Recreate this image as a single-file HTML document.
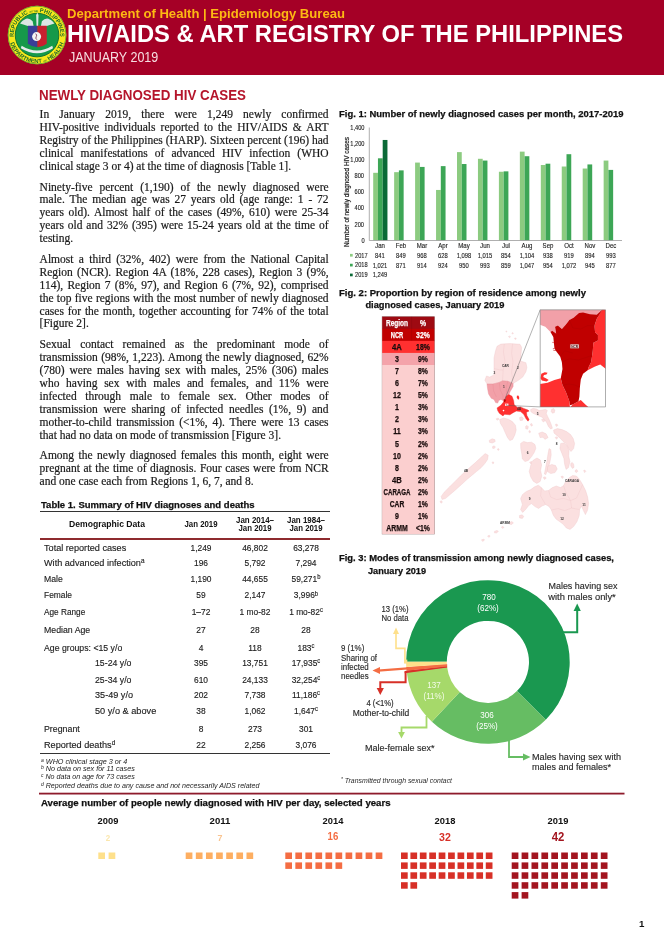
<!DOCTYPE html>
<html lang="en"><head><meta charset="utf-8"><title>HIV/AIDS &amp; ART Registry of the Philippines - January 2019</title>
<style>
html,body{margin:0;padding:0;background:#fff}
#pg{position:relative;width:664px;height:940px;overflow:hidden;background:#fff}
.t{position:absolute;white-space:nowrap;line-height:0;margin:0;padding:0}
.t sup{font-size:70%;line-height:0;vertical-align:baseline;position:relative;top:-0.42em}
svg{position:absolute;left:0;top:0;overflow:visible}
svg text{font-family:'Liberation Sans',sans-serif}
</style></head>
<body><div id="pg">
<header style="position:absolute;left:0;top:0;width:664px;height:74.6px;background:#A50026"></header>
<svg width="664" height="940" viewBox="0 0 664 940" style="pointer-events:none">
<g transform="translate(37.05,35.05)">
<circle r="29.3" fill="#F7E81B"/>
<circle r="28.9" fill="none" stroke="#3C9A3A" stroke-width="0.7"/>
<circle r="21.8" fill="#16994A" stroke="#0E6B2C" stroke-width="0.9"/>
<defs><path id="lgT" d="M-23.1,3.2 A23.3,23.3 0 1 1 23.1,3.2"/><path id="lgB" d="M-26.6,8.2 A27.8,27.8 0 0 0 26.6,8.2"/></defs>
<text font-size="5.9" font-weight="bold" fill="#1C6A2A" text-anchor="middle"><textPath href="#lgT" startOffset="50%" textLength="76" lengthAdjust="spacingAndGlyphs">REPUBLIC <tspan font-size="2.4">OF THE</tspan> PHILIPPINES</textPath></text>
<text font-size="5.7" font-weight="bold" fill="#1C6A2A" text-anchor="middle"><textPath href="#lgB" startOffset="50%" textLength="71" lengthAdjust="spacingAndGlyphs">DEPARTMENT <tspan font-size="2.4">OF</tspan> HEALTH</textPath></text>
<path d="M-17,-11.5 q2,-3.2 6,-4.8 q3.6,-0.8 6.6,2.4 l1,5.4 h-4.4 q-4.4,-1.6 -9.2,-3 z M17.4,-11.5 q-2,-3.2 -6,-4.8 q-3.6,-0.8 -6.6,2.4 l-1,5.4 h4.4 q4.400,-1.6 9.2,-3 z" fill="#DCE6E4"/>
<path d="M-0.9,-20 l1.2,-2.4 l1.2,2.4 l-0.4,11 h-1.6 z" fill="#DCE6E4"/>
<path d="M-9.2,-9.2 h9.5 v21.4 q-5.6,-0.4 -9.5,-3.6 z" fill="#3A3F98"/>
<path d="M0.3,-9.2 h9.4 v17.800 q-3.800,3.200 -9.400,3.600 z" fill="#C8202F"/>
<circle cx="-0.45" cy="1.55" r="4.5" fill="#F4F4F2"/>
<path d="M-1.4,-1.4 q1.800,1.400 0.600,3.000 q-1.200,1.600 0.600,3.000" fill="none" stroke="#7a3355" stroke-width="0.9"/>
<path d="M-15.4,10.6 q15.400,9.600 30.600,0 l0.8,2.600 q-16,10 -32.200,0 z" fill="#E6ECEA"/>
</g></svg>

<div class="t" style="top:13.60px;font:normal bold 13px/0 'Liberation Sans', sans-serif;color:#FDB913;left:67.30px;transform:scaleX(1.0074);transform-origin:left center;">Department of Health | Epidemiology Bureau</div>
<div class="t" style="top:34.26px;font:normal bold 23.2px/0 'Liberation Sans', sans-serif;color:#fff;left:67.00px;transform:scaleX(1.0243);transform-origin:left center;">HIV/AIDS &amp; ART REGISTRY OF THE PHILIPPINES</div>
<div class="t" style="top:56.85px;font:normal normal 14px/0 'Liberation Sans', sans-serif;color:#F6DDE1;left:68.50px;transform:scaleX(0.8941);transform-origin:left center;">JANUARY 2019</div>
<section>
<div class="t" style="top:94.68px;font:normal bold 14.2px/0 'Liberation Sans', sans-serif;color:#B5152B;left:39.20px;transform:scaleX(0.9411);transform-origin:left center;">NEWLY DIAGNOSED HIV CASES</div>
<div class="t" style="top:114.22px;font:normal normal 11.5px/0 'Liberation Serif', serif;color:#1a1a1a;left:39.60px;word-spacing:7.299px;-webkit-text-stroke:0.2px #1a1a1a;">In January 2019, there were 1,249 newly confirmed</div>
<div class="t" style="top:127.19px;font:normal normal 11.5px/0 'Liberation Serif', serif;color:#1a1a1a;left:39.60px;word-spacing:2.248px;-webkit-text-stroke:0.2px #1a1a1a;">HIV-positive individuals reported to the HIV/AIDS &amp; ART</div>
<div class="t" style="top:140.16px;font:normal normal 11.5px/0 'Liberation Serif', serif;color:#1a1a1a;left:39.60px;word-spacing:0.072px;-webkit-text-stroke:0.2px #1a1a1a;">Registry of the Philippines (HARP). Sixteen percent (196) had</div>
<div class="t" style="top:153.13px;font:normal normal 11.5px/0 'Liberation Serif', serif;color:#1a1a1a;left:39.60px;word-spacing:4.240px;-webkit-text-stroke:0.2px #1a1a1a;">clinical manifestations of advanced HIV infection (WHO</div>
<div class="t" style="top:166.10px;font:normal normal 11.5px/0 'Liberation Serif', serif;color:#1a1a1a;left:39.60px;-webkit-text-stroke:0.2px #1a1a1a;">clinical stage 3 or 4) at the time of diagnosis [Table 1].</div>
<div class="t" style="top:186.52px;font:normal normal 11.5px/0 'Liberation Serif', serif;color:#1a1a1a;left:39.60px;word-spacing:3.969px;-webkit-text-stroke:0.2px #1a1a1a;">Ninety-five percent (1,190) of the newly diagnosed were</div>
<div class="t" style="top:199.49px;font:normal normal 11.5px/0 'Liberation Serif', serif;color:#1a1a1a;left:39.60px;word-spacing:1.987px;-webkit-text-stroke:0.2px #1a1a1a;">male. The median age was 27 years old (age range: 1 - 72</div>
<div class="t" style="top:212.46px;font:normal normal 11.5px/0 'Liberation Serif', serif;color:#1a1a1a;left:39.60px;word-spacing:1.755px;-webkit-text-stroke:0.2px #1a1a1a;">years old). Almost half of the cases (49%, 610) were 25-34</div>
<div class="t" style="top:225.43px;font:normal normal 11.5px/0 'Liberation Serif', serif;color:#1a1a1a;left:39.60px;word-spacing:1.036px;-webkit-text-stroke:0.2px #1a1a1a;">years old and 32% (395) were 15-24 years old at the time of</div>
<div class="t" style="top:238.40px;font:normal normal 11.5px/0 'Liberation Serif', serif;color:#1a1a1a;left:39.60px;-webkit-text-stroke:0.2px #1a1a1a;">testing.</div>
<div class="t" style="top:258.62px;font:normal normal 11.5px/0 'Liberation Serif', serif;color:#1a1a1a;left:39.60px;word-spacing:2.444px;-webkit-text-stroke:0.2px #1a1a1a;">Almost a third (32%, 402) were from the National Capital</div>
<div class="t" style="top:271.59px;font:normal normal 11.5px/0 'Liberation Serif', serif;color:#1a1a1a;left:39.60px;word-spacing:1.342px;-webkit-text-stroke:0.2px #1a1a1a;">Region (NCR). Region 4A (18%, 228 cases), Region 3 (9%,</div>
<div class="t" style="top:284.56px;font:normal normal 11.5px/0 'Liberation Serif', serif;color:#1a1a1a;left:39.60px;word-spacing:1.380px;-webkit-text-stroke:0.2px #1a1a1a;">114), Region 7 (8%, 97), and Region 6 (7%, 92), comprised</div>
<div class="t" style="top:297.53px;font:normal normal 11.5px/0 'Liberation Serif', serif;color:#1a1a1a;left:39.60px;word-spacing:0.347px;-webkit-text-stroke:0.2px #1a1a1a;">the top five regions with the most number of newly diagnosed</div>
<div class="t" style="top:310.50px;font:normal normal 11.5px/0 'Liberation Serif', serif;color:#1a1a1a;left:39.60px;word-spacing:0.956px;-webkit-text-stroke:0.2px #1a1a1a;">cases for the month, together accounting for 74% of the total</div>
<div class="t" style="top:323.47px;font:normal normal 11.5px/0 'Liberation Serif', serif;color:#1a1a1a;left:39.60px;-webkit-text-stroke:0.2px #1a1a1a;">[Figure 2].</div>
<div class="t" style="top:344.02px;font:normal normal 11.5px/0 'Liberation Serif', serif;color:#1a1a1a;left:39.60px;word-spacing:6.386px;-webkit-text-stroke:0.2px #1a1a1a;">Sexual contact remained as the predominant mode of</div>
<div class="t" style="top:356.99px;font:normal normal 11.5px/0 'Liberation Serif', serif;color:#1a1a1a;left:39.60px;word-spacing:0.538px;-webkit-text-stroke:0.2px #1a1a1a;">transmission (98%, 1,223). Among the newly diagnosed, 62%</div>
<div class="t" style="top:369.96px;font:normal normal 11.5px/0 'Liberation Serif', serif;color:#1a1a1a;left:39.60px;word-spacing:2.161px;-webkit-text-stroke:0.2px #1a1a1a;">(780) were males having sex with males, 25% (306) males</div>
<div class="t" style="top:382.93px;font:normal normal 11.5px/0 'Liberation Serif', serif;color:#1a1a1a;left:39.60px;word-spacing:3.842px;-webkit-text-stroke:0.2px #1a1a1a;">who having sex with males and females, and 11% were</div>
<div class="t" style="top:395.90px;font:normal normal 11.5px/0 'Liberation Serif', serif;color:#1a1a1a;left:39.60px;word-spacing:5.826px;-webkit-text-stroke:0.2px #1a1a1a;">infected through male to female sex. Other modes of</div>
<div class="t" style="top:408.87px;font:normal normal 11.5px/0 'Liberation Serif', serif;color:#1a1a1a;left:39.60px;word-spacing:2.793px;-webkit-text-stroke:0.2px #1a1a1a;">transmission were sharing of infected needles (1%, 9) and</div>
<div class="t" style="top:421.84px;font:normal normal 11.5px/0 'Liberation Serif', serif;color:#1a1a1a;left:39.60px;word-spacing:1.871px;-webkit-text-stroke:0.2px #1a1a1a;">mother-to-child transmission (&lt;1%, 4). There were 13 cases</div>
<div class="t" style="top:434.81px;font:normal normal 11.5px/0 'Liberation Serif', serif;color:#1a1a1a;left:39.60px;-webkit-text-stroke:0.2px #1a1a1a;">that had no data on mode of transmission [Figure 3].</div>
<div class="t" style="top:455.02px;font:normal normal 11.5px/0 'Liberation Serif', serif;color:#1a1a1a;left:39.60px;word-spacing:1.592px;-webkit-text-stroke:0.2px #1a1a1a;">Among the newly diagnosed females this month, eight were</div>
<div class="t" style="top:467.99px;font:normal normal 11.5px/0 'Liberation Serif', serif;color:#1a1a1a;left:39.60px;word-spacing:0.698px;-webkit-text-stroke:0.2px #1a1a1a;">pregnant at the time of diagnosis. Four cases were from NCR</div>
<div class="t" style="top:480.96px;font:normal normal 11.5px/0 'Liberation Serif', serif;color:#1a1a1a;left:39.60px;-webkit-text-stroke:0.2px #1a1a1a;">and one case each from Regions 1, 6, 7, and 8.</div>
</section>
<section>
<div class="t" style="top:504.67px;font:normal bold 9.6px/0 'Liberation Sans', sans-serif;color:#111;left:40.50px;transform:scaleX(0.9921);transform-origin:left center;-webkit-text-stroke:0.25px #111;">Table 1. Summary of HIV diagnoses and deaths</div>
<div style="position:absolute;left:40px;top:510.6px;width:290px;height:1px;background:#333"></div>
<div class="t" style="top:524.38px;font:normal bold 9px/0 'Liberation Sans', sans-serif;color:#111;left:107.00px;transform:translateX(-50%) scaleX(0.9556);">Demographic Data</div>
<div class="t" style="top:524.38px;font:normal bold 9px/0 'Liberation Sans', sans-serif;color:#111;left:201.00px;transform:translateX(-50%) scaleX(0.8677);">Jan 2019</div>
<div class="t" style="top:519.88px;font:normal bold 9px/0 'Liberation Sans', sans-serif;color:#111;left:255.00px;transform:translateX(-50%) scaleX(0.8828);">Jan 2014–</div>
<div class="t" style="top:527.88px;font:normal bold 9px/0 'Liberation Sans', sans-serif;color:#111;left:255.00px;transform:translateX(-50%) scaleX(0.8677);">Jan 2019</div>
<div class="t" style="top:519.88px;font:normal bold 9px/0 'Liberation Sans', sans-serif;color:#111;left:306.00px;transform:translateX(-50%) scaleX(0.8828);">Jan 1984–</div>
<div class="t" style="top:527.88px;font:normal bold 9px/0 'Liberation Sans', sans-serif;color:#111;left:306.00px;transform:translateX(-50%) scaleX(0.8677);">Jan 2019</div>
<div style="position:absolute;left:40px;top:538.4px;width:290px;height:2px;background:#8E2A2E"></div>
<div class="t" style="top:547.77px;font:normal normal 9.9px/0 'Liberation Sans', sans-serif;color:#1c1c1c;left:43.75px;transform:scaleX(0.9250);transform-origin:left center;-webkit-text-stroke:0.15px #1c1c1c;">Total reported cases</div>
<div class="t" style="top:547.77px;font:normal normal 9.9px/0 'Liberation Sans', sans-serif;color:#1c1c1c;left:201.00px;transform:translateX(-50%) scaleX(0.8500);-webkit-text-stroke:0.15px #1c1c1c;">1,249</div>
<div class="t" style="top:547.77px;font:normal normal 9.9px/0 'Liberation Sans', sans-serif;color:#1c1c1c;left:255.00px;transform:translateX(-50%) scaleX(0.8500);-webkit-text-stroke:0.15px #1c1c1c;">46,802</div>
<div class="t" style="top:547.77px;font:normal normal 9.9px/0 'Liberation Sans', sans-serif;color:#1c1c1c;left:306.00px;transform:translateX(-50%) scaleX(0.8500);-webkit-text-stroke:0.15px #1c1c1c;">63,278</div>
<div class="t" style="top:563.37px;font:normal normal 9.9px/0 'Liberation Sans', sans-serif;color:#1c1c1c;left:43.75px;transform:scaleX(0.9244);transform-origin:left center;-webkit-text-stroke:0.15px #1c1c1c;">With advanced infection<sup>a</sup></div>
<div class="t" style="top:563.37px;font:normal normal 9.9px/0 'Liberation Sans', sans-serif;color:#1c1c1c;left:201.00px;transform:translateX(-50%) scaleX(0.8500);-webkit-text-stroke:0.15px #1c1c1c;">196</div>
<div class="t" style="top:563.37px;font:normal normal 9.9px/0 'Liberation Sans', sans-serif;color:#1c1c1c;left:255.00px;transform:translateX(-50%) scaleX(0.8500);-webkit-text-stroke:0.15px #1c1c1c;">5,792</div>
<div class="t" style="top:563.37px;font:normal normal 9.9px/0 'Liberation Sans', sans-serif;color:#1c1c1c;left:306.00px;transform:translateX(-50%) scaleX(0.8500);-webkit-text-stroke:0.15px #1c1c1c;">7,294</div>
<div class="t" style="top:578.77px;font:normal normal 9.9px/0 'Liberation Sans', sans-serif;color:#1c1c1c;left:43.75px;transform:scaleX(0.8759);transform-origin:left center;-webkit-text-stroke:0.15px #1c1c1c;">Male</div>
<div class="t" style="top:578.77px;font:normal normal 9.9px/0 'Liberation Sans', sans-serif;color:#1c1c1c;left:201.00px;transform:translateX(-50%) scaleX(0.8500);-webkit-text-stroke:0.15px #1c1c1c;">1,190</div>
<div class="t" style="top:578.77px;font:normal normal 9.9px/0 'Liberation Sans', sans-serif;color:#1c1c1c;left:255.00px;transform:translateX(-50%) scaleX(0.8500);-webkit-text-stroke:0.15px #1c1c1c;">44,655</div>
<div class="t" style="top:578.77px;font:normal normal 9.9px/0 'Liberation Sans', sans-serif;color:#1c1c1c;left:306.00px;transform:translateX(-50%) scaleX(0.8500);-webkit-text-stroke:0.15px #1c1c1c;">59,271<sup>b</sup></div>
<div class="t" style="top:595.47px;font:normal normal 9.9px/0 'Liberation Sans', sans-serif;color:#1c1c1c;left:43.75px;transform:scaleX(0.8501);transform-origin:left center;-webkit-text-stroke:0.15px #1c1c1c;">Female</div>
<div class="t" style="top:595.47px;font:normal normal 9.9px/0 'Liberation Sans', sans-serif;color:#1c1c1c;left:201.00px;transform:translateX(-50%) scaleX(0.8500);-webkit-text-stroke:0.15px #1c1c1c;">59</div>
<div class="t" style="top:595.47px;font:normal normal 9.9px/0 'Liberation Sans', sans-serif;color:#1c1c1c;left:255.00px;transform:translateX(-50%) scaleX(0.8500);-webkit-text-stroke:0.15px #1c1c1c;">2,147</div>
<div class="t" style="top:595.47px;font:normal normal 9.9px/0 'Liberation Sans', sans-serif;color:#1c1c1c;left:306.00px;transform:translateX(-50%) scaleX(0.8500);-webkit-text-stroke:0.15px #1c1c1c;">3,996<sup>b</sup></div>
<div class="t" style="top:611.87px;font:normal normal 9.9px/0 'Liberation Sans', sans-serif;color:#1c1c1c;left:43.75px;transform:scaleX(0.8347);transform-origin:left center;-webkit-text-stroke:0.15px #1c1c1c;">Age Range</div>
<div class="t" style="top:611.87px;font:normal normal 9.9px/0 'Liberation Sans', sans-serif;color:#1c1c1c;left:201.00px;transform:translateX(-50%) scaleX(0.8500);-webkit-text-stroke:0.15px #1c1c1c;">1–72</div>
<div class="t" style="top:611.87px;font:normal normal 9.9px/0 'Liberation Sans', sans-serif;color:#1c1c1c;left:255.00px;transform:translateX(-50%) scaleX(0.8500);-webkit-text-stroke:0.15px #1c1c1c;">1 mo-82</div>
<div class="t" style="top:611.87px;font:normal normal 9.9px/0 'Liberation Sans', sans-serif;color:#1c1c1c;left:306.00px;transform:translateX(-50%) scaleX(0.8500);-webkit-text-stroke:0.15px #1c1c1c;">1 mo-82<sup>c</sup></div>
<div class="t" style="top:629.97px;font:normal normal 9.9px/0 'Liberation Sans', sans-serif;color:#1c1c1c;left:43.75px;transform:scaleX(0.8865);transform-origin:left center;-webkit-text-stroke:0.15px #1c1c1c;">Median Age</div>
<div class="t" style="top:629.97px;font:normal normal 9.9px/0 'Liberation Sans', sans-serif;color:#1c1c1c;left:201.00px;transform:translateX(-50%) scaleX(0.8500);-webkit-text-stroke:0.15px #1c1c1c;">27</div>
<div class="t" style="top:629.97px;font:normal normal 9.9px/0 'Liberation Sans', sans-serif;color:#1c1c1c;left:255.00px;transform:translateX(-50%) scaleX(0.8500);-webkit-text-stroke:0.15px #1c1c1c;">28</div>
<div class="t" style="top:629.97px;font:normal normal 9.9px/0 'Liberation Sans', sans-serif;color:#1c1c1c;left:306.00px;transform:translateX(-50%) scaleX(0.8500);-webkit-text-stroke:0.15px #1c1c1c;">28</div>
<div class="t" style="top:647.57px;font:normal normal 9.9px/0 'Liberation Sans', sans-serif;color:#1c1c1c;left:43.75px;transform:scaleX(0.8825);transform-origin:left center;-webkit-text-stroke:0.15px #1c1c1c;">Age groups: &lt;15 y/o</div>
<div class="t" style="top:647.57px;font:normal normal 9.9px/0 'Liberation Sans', sans-serif;color:#1c1c1c;left:201.00px;transform:translateX(-50%) scaleX(0.8500);-webkit-text-stroke:0.15px #1c1c1c;">4</div>
<div class="t" style="top:647.57px;font:normal normal 9.9px/0 'Liberation Sans', sans-serif;color:#1c1c1c;left:255.00px;transform:translateX(-50%) scaleX(0.8500);-webkit-text-stroke:0.15px #1c1c1c;">118</div>
<div class="t" style="top:647.57px;font:normal normal 9.9px/0 'Liberation Sans', sans-serif;color:#1c1c1c;left:306.00px;transform:translateX(-50%) scaleX(0.8500);-webkit-text-stroke:0.15px #1c1c1c;">183<sup>c</sup></div>
<div class="t" style="top:663.37px;font:normal normal 9.9px/0 'Liberation Sans', sans-serif;color:#1c1c1c;left:94.70px;transform:scaleX(0.8862);transform-origin:left center;-webkit-text-stroke:0.15px #1c1c1c;">15-24 y/o</div>
<div class="t" style="top:663.37px;font:normal normal 9.9px/0 'Liberation Sans', sans-serif;color:#1c1c1c;left:201.00px;transform:translateX(-50%) scaleX(0.8500);-webkit-text-stroke:0.15px #1c1c1c;">395</div>
<div class="t" style="top:663.37px;font:normal normal 9.9px/0 'Liberation Sans', sans-serif;color:#1c1c1c;left:255.00px;transform:translateX(-50%) scaleX(0.8500);-webkit-text-stroke:0.15px #1c1c1c;">13,751</div>
<div class="t" style="top:663.37px;font:normal normal 9.9px/0 'Liberation Sans', sans-serif;color:#1c1c1c;left:306.00px;transform:translateX(-50%) scaleX(0.8500);-webkit-text-stroke:0.15px #1c1c1c;">17,935<sup>c</sup></div>
<div class="t" style="top:679.57px;font:normal normal 9.9px/0 'Liberation Sans', sans-serif;color:#1c1c1c;left:94.70px;transform:scaleX(0.8862);transform-origin:left center;-webkit-text-stroke:0.15px #1c1c1c;">25-34 y/o</div>
<div class="t" style="top:679.57px;font:normal normal 9.9px/0 'Liberation Sans', sans-serif;color:#1c1c1c;left:201.00px;transform:translateX(-50%) scaleX(0.8500);-webkit-text-stroke:0.15px #1c1c1c;">610</div>
<div class="t" style="top:679.57px;font:normal normal 9.9px/0 'Liberation Sans', sans-serif;color:#1c1c1c;left:255.00px;transform:translateX(-50%) scaleX(0.8500);-webkit-text-stroke:0.15px #1c1c1c;">24,133</div>
<div class="t" style="top:679.57px;font:normal normal 9.9px/0 'Liberation Sans', sans-serif;color:#1c1c1c;left:306.00px;transform:translateX(-50%) scaleX(0.8500);-webkit-text-stroke:0.15px #1c1c1c;">32,254<sup>c</sup></div>
<div class="t" style="top:695.37px;font:normal normal 9.9px/0 'Liberation Sans', sans-serif;color:#1c1c1c;left:94.50px;transform:scaleX(0.9226);transform-origin:left center;-webkit-text-stroke:0.15px #1c1c1c;">35-49 y/o</div>
<div class="t" style="top:695.37px;font:normal normal 9.9px/0 'Liberation Sans', sans-serif;color:#1c1c1c;left:201.00px;transform:translateX(-50%) scaleX(0.8500);-webkit-text-stroke:0.15px #1c1c1c;">202</div>
<div class="t" style="top:695.37px;font:normal normal 9.9px/0 'Liberation Sans', sans-serif;color:#1c1c1c;left:255.00px;transform:translateX(-50%) scaleX(0.8500);-webkit-text-stroke:0.15px #1c1c1c;">7,738</div>
<div class="t" style="top:695.37px;font:normal normal 9.9px/0 'Liberation Sans', sans-serif;color:#1c1c1c;left:306.00px;transform:translateX(-50%) scaleX(0.8500);-webkit-text-stroke:0.15px #1c1c1c;">11,186<sup>c</sup></div>
<div class="t" style="top:711.27px;font:normal normal 9.9px/0 'Liberation Sans', sans-serif;color:#1c1c1c;left:94.50px;transform:scaleX(0.9296);transform-origin:left center;-webkit-text-stroke:0.15px #1c1c1c;">50 y/o &amp; above</div>
<div class="t" style="top:711.27px;font:normal normal 9.9px/0 'Liberation Sans', sans-serif;color:#1c1c1c;left:201.00px;transform:translateX(-50%) scaleX(0.8500);-webkit-text-stroke:0.15px #1c1c1c;">38</div>
<div class="t" style="top:711.27px;font:normal normal 9.9px/0 'Liberation Sans', sans-serif;color:#1c1c1c;left:255.00px;transform:translateX(-50%) scaleX(0.8500);-webkit-text-stroke:0.15px #1c1c1c;">1,062</div>
<div class="t" style="top:711.27px;font:normal normal 9.9px/0 'Liberation Sans', sans-serif;color:#1c1c1c;left:306.00px;transform:translateX(-50%) scaleX(0.8500);-webkit-text-stroke:0.15px #1c1c1c;">1,647<sup>c</sup></div>
<div class="t" style="top:728.77px;font:normal normal 9.9px/0 'Liberation Sans', sans-serif;color:#1c1c1c;left:43.75px;transform:scaleX(0.8917);transform-origin:left center;-webkit-text-stroke:0.15px #1c1c1c;">Pregnant</div>
<div class="t" style="top:728.77px;font:normal normal 9.9px/0 'Liberation Sans', sans-serif;color:#1c1c1c;left:201.00px;transform:translateX(-50%) scaleX(0.8500);-webkit-text-stroke:0.15px #1c1c1c;">8</div>
<div class="t" style="top:728.77px;font:normal normal 9.9px/0 'Liberation Sans', sans-serif;color:#1c1c1c;left:255.00px;transform:translateX(-50%) scaleX(0.8500);-webkit-text-stroke:0.15px #1c1c1c;">273</div>
<div class="t" style="top:728.77px;font:normal normal 9.9px/0 'Liberation Sans', sans-serif;color:#1c1c1c;left:306.00px;transform:translateX(-50%) scaleX(0.8500);-webkit-text-stroke:0.15px #1c1c1c;">301</div>
<div class="t" style="top:744.87px;font:normal normal 9.9px/0 'Liberation Sans', sans-serif;color:#1c1c1c;left:43.75px;transform:scaleX(0.9266);transform-origin:left center;-webkit-text-stroke:0.15px #1c1c1c;">Reported deaths<sup>d</sup></div>
<div class="t" style="top:744.87px;font:normal normal 9.9px/0 'Liberation Sans', sans-serif;color:#1c1c1c;left:201.00px;transform:translateX(-50%) scaleX(0.8500);-webkit-text-stroke:0.15px #1c1c1c;">22</div>
<div class="t" style="top:744.87px;font:normal normal 9.9px/0 'Liberation Sans', sans-serif;color:#1c1c1c;left:255.00px;transform:translateX(-50%) scaleX(0.8500);-webkit-text-stroke:0.15px #1c1c1c;">2,256</div>
<div class="t" style="top:744.87px;font:normal normal 9.9px/0 'Liberation Sans', sans-serif;color:#1c1c1c;left:306.00px;transform:translateX(-50%) scaleX(0.8500);-webkit-text-stroke:0.15px #1c1c1c;">3,076</div>
<div style="position:absolute;left:40px;top:753.1px;width:290px;height:1.2px;background:#333"></div>
<div class="t" style="top:761.65px;font:italic normal 6.5px/0 'Liberation Sans', sans-serif;color:#222;left:41.25px;transform:scaleX(1.1104);transform-origin:left center;"><sup>a</sup> WHO clinical stage 3 or 4</div>
<div class="t" style="top:769.25px;font:italic normal 6.5px/0 'Liberation Sans', sans-serif;color:#222;left:41.25px;transform:scaleX(1.1056);transform-origin:left center;"><sup>b</sup> No data on sex for 11 cases</div>
<div class="t" style="top:777.25px;font:italic normal 6.5px/0 'Liberation Sans', sans-serif;color:#222;left:41.25px;transform:scaleX(1.0931);transform-origin:left center;"><sup>c</sup> No data on age for 73 cases</div>
<div class="t" style="top:785.65px;font:italic normal 6.5px/0 'Liberation Sans', sans-serif;color:#222;left:41.25px;transform:scaleX(1.0928);transform-origin:left center;"><sup>d</sup> Reported deaths due to any cause and not necessarily AIDS related</div>
</section>
<svg width="664" height="940" viewBox="0 0 664 940">
<rect x="373.20" y="172.80" width="4.75" height="67.70" fill="#8CCB80"/>
<rect x="377.95" y="158.31" width="4.75" height="82.19" fill="#3DA656"/>
<rect x="382.70" y="139.96" width="4.75" height="100.54" fill="#0B6A37"/>
<rect x="394.15" y="172.16" width="4.75" height="68.34" fill="#8CCB80"/>
<rect x="398.90" y="170.38" width="4.75" height="70.12" fill="#3DA656"/>
<rect x="415.10" y="162.58" width="4.75" height="77.92" fill="#8CCB80"/>
<rect x="419.85" y="166.92" width="4.75" height="73.58" fill="#3DA656"/>
<rect x="436.05" y="189.95" width="4.75" height="50.55" fill="#8CCB80"/>
<rect x="440.80" y="166.12" width="4.75" height="74.38" fill="#3DA656"/>
<rect x="457.00" y="152.11" width="4.75" height="88.39" fill="#8CCB80"/>
<rect x="461.75" y="164.02" width="4.75" height="76.48" fill="#3DA656"/>
<rect x="477.95" y="158.79" width="4.75" height="81.71" fill="#8CCB80"/>
<rect x="482.70" y="160.56" width="4.75" height="79.94" fill="#3DA656"/>
<rect x="498.90" y="171.75" width="4.75" height="68.75" fill="#8CCB80"/>
<rect x="503.65" y="171.35" width="4.75" height="69.15" fill="#3DA656"/>
<rect x="519.85" y="151.63" width="4.75" height="88.87" fill="#8CCB80"/>
<rect x="524.60" y="156.22" width="4.75" height="84.28" fill="#3DA656"/>
<rect x="540.80" y="164.99" width="4.75" height="75.51" fill="#8CCB80"/>
<rect x="545.55" y="163.70" width="4.75" height="76.80" fill="#3DA656"/>
<rect x="561.75" y="166.52" width="4.75" height="73.98" fill="#8CCB80"/>
<rect x="566.50" y="154.20" width="4.75" height="86.30" fill="#3DA656"/>
<rect x="582.70" y="168.53" width="4.75" height="71.97" fill="#8CCB80"/>
<rect x="587.45" y="164.43" width="4.75" height="76.07" fill="#3DA656"/>
<rect x="603.65" y="160.56" width="4.75" height="79.94" fill="#8CCB80"/>
<rect x="608.40" y="169.90" width="4.75" height="70.60" fill="#3DA656"/>
<path d="M369.3,127.5 V240.5 H622" fill="none" stroke="#9a9a9a" stroke-width="0.8"/>
<rect x="350" y="253.90" width="2.7" height="2.7" fill="#8CCB80"/>
<rect x="350" y="263.75" width="2.7" height="2.7" fill="#3DA656"/>
<rect x="350" y="273.60" width="2.7" height="2.7" fill="#0B6A37"/>
<rect x="382.2" y="316.7" width="52.20" height="217.26" fill="none" stroke="#6b4a4a" stroke-opacity="0.75" stroke-width="0.7"/>
<rect x="382.2" y="316.70" width="52.20" height="12.37" fill="#9E0A12"/>
<rect x="382.2" y="328.77" width="52.20" height="12.37" fill="#C00000"/>
<rect x="382.2" y="340.84" width="52.20" height="12.37" fill="#FF3030"/>
<rect x="382.2" y="352.91" width="52.20" height="12.37" fill="#F4A3AA"/>
<rect x="382.2" y="364.98" width="52.20" height="168.98" fill="#FBCFCF"/>
<path d="M411.6,316.7 V340.84" stroke="#5a0000" stroke-opacity="0.25" stroke-width="0.5"/>
<g id="phmap" stroke-linejoin="round">
<g fill="#FBE0E0" stroke="#EFC8C9" stroke-width="0.4">
<!-- North Luzon: Regions 1, CAR, 2 -->
<path d="M497.1,346.2 L500.9,344.1 L509.9,343.6 L520,344.3 L521.6,347.3 L521.1,353.7 L520.6,361.1 L525.9,362.7 L526.9,367.5 L525.9,371.7 L522.7,377.1 L518.4,380.3 L513.1,383.4 L507.8,381.3 L502.5,380.8 L499.3,382.4 L492.9,384 L487,384 L484.9,380.3 L486.5,376 L489.7,377.1 L494,374.9 L494,368.6 L494,357.9 L495.6,350.5 Z"/>
<path d="M504.3,344 L503.4,352 L505,361 L503.2,370 L502.5,380.8 M512.6,343.8 L511.6,353 L513,362 L511.6,372 L513.1,383.4 M494,368.6 L499.5,369.8 L503.2,370" fill="none"/>
<!-- Batanes/Babuyan dots -->
<path d="M508.5,336.5 l1.2,-0.6 l0.8,1 l-1,0.9 z M511.8,333 l1,-0.4 l0.6,0.9 l-0.9,0.6 z M514.5,338.2 l1.3,-0.3 l0.5,1 l-1.2,0.5 z M505.8,331.2 l0.8,-0.3 l0.4,0.8 l-0.8,0.4 z"/>
<!-- Bicol (5) -->
<path d="M530.6,409.6 L533,408.4 L536.5,409 L539.2,410.6 L542.5,410 L545.5,409.4 L547.4,410.6 L546.2,413.2 L547.6,416.4 L549.4,420 L551.2,424.4 L552.4,428.2 L550.6,429 L548.4,426.4 L546.4,422 L544,419.4 L541.8,417 L539,416 L535.7,414.6 L532.6,413 L530.8,411.6 Z"/>
<path d="M551.6,409.4 l2,-0.8 l1.2,1.6 l-0.4,2.4 l-2,0.6 l-1.2,-1.8 z"/>
<!-- Masbate -->
<path transform="translate(-6.5,8)" d="M545.2,425.2 L548.8,424 L552.6,425.8 L554.6,429.6 L551.4,431.4 L549.6,429.2 L546.6,429.6 Z"/>
<path d="M541.6,419.6 l2,-0.6 l1.4,1.8 l-1.8,1.2 z M555.4,424.4 l1.6,-0.4 l0.8,1.6 l-1.6,0.8 z"/>
<!-- Marinduque, Romblon -->
<path d="M519.6,417.6 l2.2,-0.8 l1.6,1.6 l-1,2 l-2.4,0 z M525.6,426.4 l1.4,-1 l1.4,1.4 l-0.8,2.4 l-1.8,-0.4 z M530.4,424 l1.4,-0.4 l0.8,1.8 l-1.4,0.8 z M528.8,431 l1.2,-0.4 l0.6,1.6 l-1.2,0.6 z"/>
<!-- Mindoro -->
<path d="M499.6,419.6 L503.6,418 L508.2,419.2 L512.4,421.6 L515.4,425.2 L516.2,430 L514.8,435 L512.6,439.4 L509.8,440.6 L507.4,437.4 L505.2,432.6 L503,427.6 L500.4,423.4 Z"/>
<path d="M496.2,418.8 l2,-0.8 l0.8,1.2 l-2,1 z"/>
<!-- Calamian / Busuanga -->
<path d="M489.2,440.4 l3,-1.6 l2.6,0.8 l0.4,2 l-2.8,1.4 l-2.8,-0.6 z M492.6,446.6 l1.6,-0.8 l1.2,1.2 l-1.2,1.6 l-1.6,-0.4 z M497.4,449 l1.2,-0.4 l0.6,1.2 l-1.2,0.6 z"/>
<!-- Palawan -->
<path d="M485.2,453.6 L488.2,455.2 L487.6,459.4 L484.8,463.6 L481,467.8 L476.4,471.6 L471.8,475.4 L466.6,479.8 L461.2,484.8 L455.4,490 L449.8,494.8 L445.4,498.6 L442,499.4 L441.2,496.4 L444.2,492.2 L449.4,487 L455,481.4 L460.4,476 L465.8,471 L470.8,466.6 L475.4,462.6 L479.8,458.4 Z"/>
<path d="M440,501.4 l1.6,-0.6 l0.8,1.4 l-1.4,1 z M492,462.4 l1.2,-0.6 l0.8,1.2 l-1.2,0.8 z"/>
<!-- Panay (6) -->
<path d="M520.6,443.4 L523.6,441.4 L527.4,442.6 L531.6,442.2 L535,444.6 L535.8,448.4 L534.2,452.6 L531.6,456.6 L528.4,460.4 L525,461.6 L522.4,459 L521.8,454 L520.8,448.6 Z"/>
<path d="M529.6,462.2 l2,-0.8 l1.2,1.4 l-1.6,1.4 z"/>
<!-- Negros -->
<path d="M533.4,460 L537,458 L540.4,460 L541.6,465 L540.6,470.6 L541.8,476 L540.2,481.4 L536.8,483.4 L533.2,481.2 L530.6,476.6 L529.2,471.4 L530.6,466 L531.6,462.4 Z"/>
<!-- Cebu (7) -->
<path transform="translate(2.6,0)" d="M546.4,448.6 L548.2,449.6 L548.6,455 L547.4,461.6 L545.6,468.4 L543.2,474.6 L541.8,474 L543,467.6 L544.4,460.6 L545.4,454 Z"/>
<!-- Bohol -->
<path d="M547.6,466.6 L551.6,464.4 L555.6,465.6 L557.2,469 L555,472.6 L550.8,473.6 L547.4,471.6 Z"/>
<path d="M543.2,477.4 l2,-0.6 l1,1.4 l-1.8,1.2 z"/>
<!-- Samar (8) -->
<path d="M553.6,430 L557.4,428.6 L562,429.6 L566.6,431.6 L570.6,434.6 L573.2,438.6 L574.6,443.6 L573.6,448.6 L571,451.6 L568.6,448.4 L566.4,444 L563.2,441.6 L560.4,438.4 L556.8,435.4 L554,433 Z"/>
<!-- Leyte -->
<path transform="translate(4.5,3)" d="M556.2,440.4 L559.6,440 L562.6,443 L564.6,447.6 L564.2,453 L565.4,458.6 L564,464.6 L561.6,466.4 L560.2,461.6 L559.4,455.4 L557.4,450.4 L555.4,445.4 Z"/>
<path d="M555.2,437.4 l1.6,-0.6 l1,1.2 l-1.4,1.2 z M570.8,463.4 l1.4,-1 l1.4,1.6 l0.4,3.4 l-1.6,1 l-1.6,-2.4 z M575.4,470.2 l1.4,-0.6 l1,1.6 l-1.2,1.4 l-1.4,-0.8 z"/>
<!-- Mindanao -->
<path d="M520.6,498.6 L522.6,494.4 L526.4,491.4 L530.8,489.6 L534.6,486.8 L538.4,485.2 L541.4,487.6 L544.6,491 L548.6,490.4 L552.4,487.6 L556.4,486 L560.4,487.6 L563.6,485.6 L565.6,481.6 L568.8,478 L572.6,475.6 L576.4,476 L579.6,479.6 L582.6,484.6 L585.6,490.6 L587.6,497 L588.6,503.6 L587.6,510 L585.4,514.6 L583.4,510.6 L581.6,506 L579.6,509.6 L579.2,515.6 L577,521.6 L573.6,526.6 L570,529.4 L566.4,528 L563,524 L559.6,521.6 L556,519 L553.2,515 L551.4,510 L549,506.4 L545.6,504.6 L542,506 L538.6,508.4 L535,506.6 L531.4,503.6 L528.6,505.6 L525.6,509.6 L522.6,512.4 L520.6,509.6 L522.4,504.6 Z"/>
<path d="M548.6,490.4 L550.6,497 L556.6,499.6 L563.6,498.4 L570.6,500.6 L576.6,498 L582.6,484.6 M563.6,485.6 L565.6,492 L570.6,500.6 L571.6,508 L579.6,509.6 M551.4,510 L558,508.6 L564.6,510.6 L571.6,508 M541.4,487.6 L540.6,496 L545.6,504.6" fill="none"/>
<!-- Basilan, Sulu, Tawi-tawi -->
<path d="M519.4,515.6 l2.6,-0.8 l1.8,1.6 l-1.4,2 l-2.8,-0.4 z M509.4,522.6 l2.4,-1 l1.6,1.2 l-1.6,1.6 l-2.2,-0.2 z M501.4,527 l1.6,-0.6 l1,1 l-1.4,1 z M494.4,531.4 l2.6,-1 l1.4,1 l-2,1.6 l-2,-0.2 z M487.6,536 l1.6,-0.8 l1,1 l-1.4,1.2 z M481.4,540 l2.2,-1 l1,1 l-1.8,1.4 z"/>
<path d="M583.6,470.6 l1.2,-0.6 l1,1.4 l-1.2,1.2 z M561,476.6 l1.6,-0.6 l1,1.2 l-1.4,1.2 z"/>
</g>
<!-- Region 3 -->
<path d="M487,384 L492.9,384 L499.3,382.4 L502.5,380.8 L507.8,381.3 L513.1,383.4 L513.1,386.6 L509.9,392 L508.3,396.2 L505.7,399.4 L503,400.5 L500.9,399.4 L498.7,400.5 L497.7,403.1 L495.6,402.6 L494,399.4 L491.3,398.3 L488.6,394.1 L487.6,388.8 Z" fill="#F2A0A8" stroke="#E88A94" stroke-width="0.4"/>
<path d="M492.9,384 L493.6,391 L496.4,397 M499.3,382.4 L500.2,390 L503,395.6 L503,400.5 M507.8,381.3 L506.2,388 L506.6,395" fill="none" stroke="#E88A94" stroke-width="0.4"/>
<!-- Region 4A -->
<path d="M497.1,407.9 L500.9,405.3 L503.5,402.1 L505.1,399.4 L506.2,396.2 L508.9,394.6 L512,396.2 L513.6,400.5 L514.2,404.7 L517.4,407.4 L520.6,406.9 L523.7,408.4 L528,410 L529.1,411.1 L526.4,412.2 L526.9,415.4 L529.1,419.6 L528,421.2 L525.9,418.6 L523.7,414.3 L520.6,411.6 L516.3,411.1 L513.1,412.7 L509.9,414.8 L504.6,414.3 L503,415.9 L499.3,413.2 L497.7,410.6 Z" fill="#FF3030" stroke="#E82424" stroke-width="0.4"/>
<path d="M516.9,395.8 l1.4,-0.4 l0.9,1.5 l-0.1,2.4 l-1.1,0.3 l-1.2,-1.9 z" fill="#FF3030"/>
<path d="M505.2,403.6 h3.2 v2.4 h-3.2 z" fill="#fff"/>
<path d="M506.6,403.6 v1.6 M505.9,405 h1.6" stroke="#FF3030" stroke-width="0.5"/>
<circle cx="503.5" cy="410.6" r="0.8" fill="#fff"/>
<path d="M503.6,399.4 l1.6,-0.4 l0.7,1.7 l-1,1.6 l-1.3,-0.7 z" fill="#C00000"/>
<!-- callout lines -->
<path d="M504.6,400 L540.2,309.8 M506.4,405.4 L540.2,406.9" fill="none" stroke="#555" stroke-width="0.45"/>
<!-- inset -->
<g>
<clipPath id="insc"><rect x="540.2" y="309.8" width="65.3" height="97.1"/></clipPath>
<g clip-path="url(#insc)"><g transform="translate(535,305) scale(0.114455)">
<rect x="40" y="40" width="580" height="855" fill="#fff"/>
<path d="M40,40 H600 L590,100 L400,110 L340,110 L300,130 L270,170 L235,210 L200,180 L175,190 L185,250 L150,225 L135,235 L90,190 L40,172 Z" fill="#F2A0A8"/>
<path d="M620,40 V560 L570,520 L520,540 L460,570 L470,540 L490,500 L500,440 L505,400 L510,330 L550,310 L550,260 L525,240 L520,180 L540,120 L580,55 L590,40 Z" fill="#FF3030"/>
<path d="M40,690 L110,680 L170,655 L225,640 L240,700 L270,760 L300,840 L305,895 H40 Z" fill="#FF3030"/>
<path d="M380,840 L400,830 L440,870 L470,895 H305 L330,870 Z" fill="#FF3030"/>
<path d="M48,640 L55,600 L85,588 L110,592 L100,608 L78,612 L72,630 L95,640 L120,655 L100,668 L60,660 Z" fill="#FF3030"/>
<path d="M385,70 L420,65 L480,80 L540,85 L590,40 L580,55 L540,120 L520,180 L525,240 L550,260 L550,310 L510,330 L505,400 L500,440 L490,500 L470,540 L460,570 L420,600 L400,650 L392,720 L388,800 L380,840 L330,870 L305,875 L300,840 L270,760 L240,700 L225,640 L240,560 L235,500 L220,450 L190,410 L170,380 L165,330 L160,280 L135,235 L150,225 L185,250 L175,190 L200,180 L235,210 L270,170 L300,130 L340,110 Z" fill="#C00000"/>
<path d="M165,330 l-14,-4 M170,380 l-14,2 M190,398 l-30,-2" stroke="#C00000" stroke-width="5" fill="none"/>
<path d="M235,500 L300,470 L380,480 L440,460 L500,440 M240,700 L300,690 L350,700 L392,720 M220,450 L260,400 L330,420 M300,130 L330,200 L400,210 L460,180 L520,180" fill="none" stroke="#A80000" stroke-width="3"/>
</g></g>
<rect x="540.2" y="309.8" width="65.3" height="97.1" fill="none" stroke="#777" stroke-width="0.6"/>
<rect x="570.3" y="344.3" width="8.6" height="4" fill="#F7E9E9" stroke="#8a4a4a" stroke-width="0.3"/>
<text x="574.6" y="347.6" font-size="3.2" text-anchor="middle" fill="#400" font-weight="bold">NCR</text>
</g>
<g font-size="3.2" font-weight="bold" fill="#333" text-anchor="middle">
<text x="505.4" y="367.3">CAR</text><text x="517.9" y="368.8">2</text><text x="494.5" y="374.4">3</text><text x="504" y="388.4">1</text>
<text x="519" y="409.9">4A</text><text x="537.6" y="415.4">5</text><text x="466" y="472">4B</text><text x="527.6" y="454">6</text>
<text x="545" y="463">7</text><text x="556.6" y="445.4">8</text><text x="572" y="481.8">CARAGA</text><text x="564" y="496">10</text>
<text x="584" y="506.4">11</text><text x="562" y="520">12</text><text x="529.7" y="500">9</text><text x="505" y="524">ARMM</text>
</g>
</g>

<path d="M406.10,661.74 A81.8,81.8 0 1 1 545.74,719.84 L516.96,691.06 A41.1,41.1 0 1 0 446.80,661.87 Z" fill="#1A9850"/>
<path d="M545.74,719.84 A81.8,81.8 0 0 1 431.91,721.63 L459.77,691.96 A41.1,41.1 0 0 0 516.96,691.06 Z" fill="#66BD63"/>
<path d="M431.91,721.63 A81.8,81.8 0 0 1 406.77,672.41 L447.13,667.23 A41.1,41.1 0 0 0 459.77,691.96 Z" fill="#A6D96A"/>
<path d="M406.77,672.41 A81.8,81.8 0 0 1 406.57,670.78 L447.04,666.41 A41.1,41.1 0 0 0 447.13,667.23 Z" fill="#D73027"/>
<path d="M406.57,670.78 A81.8,81.8 0 0 1 406.26,667.09 L446.88,664.56 A41.1,41.1 0 0 0 447.04,666.41 Z" fill="#F46D43"/>
<path d="M406.26,667.09 A81.8,81.8 0 0 1 406.10,661.74 L446.80,661.87 A41.1,41.1 0 0 0 446.88,664.56 Z" fill="#FEE08B"/>
<path d="M563,632.3 H577.2 V610" fill="none" stroke="#1A9850" stroke-width="2"/><path d="M577.2,603.5 l3.6,7.5 h-7.2 z" fill="#1A9850"/>
<path d="M509,740 V757 H524" fill="none" stroke="#66BD63" stroke-width="1.8"/><path d="M530.5,757 l-7.5,-3.4 v6.8 z" fill="#66BD63"/>
<path d="M426.5,716 V727.5 H401.5 V733" fill="none" stroke="#A6D96A" stroke-width="1.8"/><path d="M401.5,738.5 l-3.4,-6.5 h6.8 z" fill="#A6D96A"/>
<rect x="404.1" y="659.6" width="3.2" height="4" fill="#FEE08B"/>
<path d="M404.9,663 V648.4 H396 V633" fill="none" stroke="#FEE08B" stroke-width="1.6"/><path d="M396,627.5 l-3,6.5 h6 z" fill="#FEE08B"/>
<path d="M447.2,664.2 L378,669.4 L378,671.8 L447.2,666.4 Z" fill="#F46D43"/><path d="M372.5,670.6 l7.5,-3.6 v7 z" fill="#F46D43"/>
<path d="M447.2,666.4 L404.6,671 L404.6,673.3 L447.2,667.6 Z" fill="#D73027"/>
<path d="M405.6,671.5 V682.2 H380.3 V689" fill="none" stroke="#D73027" stroke-width="2"/><path d="M380.3,695 l-3.6,-7 h7.2 z" fill="#D73027"/>
<rect x="39" y="792.7" width="585.5" height="1.8" fill="#8E1B2C"/>
<rect x="98.30" y="852.50" width="6.7" height="6.5" fill="#FEE08B"/>
<rect x="108.60" y="852.50" width="6.7" height="6.5" fill="#FEE08B"/>
<rect x="185.70" y="852.50" width="6.7" height="6.5" fill="#FDAE61"/>
<rect x="195.83" y="852.50" width="6.7" height="6.5" fill="#FDAE61"/>
<rect x="205.96" y="852.50" width="6.7" height="6.5" fill="#FDAE61"/>
<rect x="216.09" y="852.50" width="6.7" height="6.5" fill="#FDAE61"/>
<rect x="226.22" y="852.50" width="6.7" height="6.5" fill="#FDAE61"/>
<rect x="236.35" y="852.50" width="6.7" height="6.5" fill="#FDAE61"/>
<rect x="246.48" y="852.50" width="6.7" height="6.5" fill="#FDAE61"/>
<rect x="285.30" y="852.50" width="6.7" height="6.5" fill="#F46D43"/>
<rect x="295.34" y="852.50" width="6.7" height="6.5" fill="#F46D43"/>
<rect x="305.38" y="852.50" width="6.7" height="6.5" fill="#F46D43"/>
<rect x="315.42" y="852.50" width="6.7" height="6.5" fill="#F46D43"/>
<rect x="325.46" y="852.50" width="6.7" height="6.5" fill="#F46D43"/>
<rect x="335.50" y="852.50" width="6.7" height="6.5" fill="#F46D43"/>
<rect x="345.54" y="852.50" width="6.7" height="6.5" fill="#F46D43"/>
<rect x="355.58" y="852.50" width="6.7" height="6.5" fill="#F46D43"/>
<rect x="365.62" y="852.50" width="6.7" height="6.5" fill="#F46D43"/>
<rect x="375.66" y="852.50" width="6.7" height="6.5" fill="#F46D43"/>
<rect x="285.30" y="862.40" width="6.7" height="6.5" fill="#F46D43"/>
<rect x="295.34" y="862.40" width="6.7" height="6.5" fill="#F46D43"/>
<rect x="305.38" y="862.40" width="6.7" height="6.5" fill="#F46D43"/>
<rect x="315.42" y="862.40" width="6.7" height="6.5" fill="#F46D43"/>
<rect x="325.46" y="862.40" width="6.7" height="6.5" fill="#F46D43"/>
<rect x="335.50" y="862.40" width="6.7" height="6.5" fill="#F46D43"/>
<rect x="401.00" y="852.50" width="6.7" height="6.5" fill="#D73027"/>
<rect x="410.42" y="852.50" width="6.7" height="6.5" fill="#D73027"/>
<rect x="419.84" y="852.50" width="6.7" height="6.5" fill="#D73027"/>
<rect x="429.26" y="852.50" width="6.7" height="6.5" fill="#D73027"/>
<rect x="438.68" y="852.50" width="6.7" height="6.5" fill="#D73027"/>
<rect x="448.10" y="852.50" width="6.7" height="6.5" fill="#D73027"/>
<rect x="457.52" y="852.50" width="6.7" height="6.5" fill="#D73027"/>
<rect x="466.94" y="852.50" width="6.7" height="6.5" fill="#D73027"/>
<rect x="476.36" y="852.50" width="6.7" height="6.5" fill="#D73027"/>
<rect x="485.78" y="852.50" width="6.7" height="6.5" fill="#D73027"/>
<rect x="401.00" y="862.40" width="6.7" height="6.5" fill="#D73027"/>
<rect x="410.42" y="862.40" width="6.7" height="6.5" fill="#D73027"/>
<rect x="419.84" y="862.40" width="6.7" height="6.5" fill="#D73027"/>
<rect x="429.26" y="862.40" width="6.7" height="6.5" fill="#D73027"/>
<rect x="438.68" y="862.40" width="6.7" height="6.5" fill="#D73027"/>
<rect x="448.10" y="862.40" width="6.7" height="6.5" fill="#D73027"/>
<rect x="457.52" y="862.40" width="6.7" height="6.5" fill="#D73027"/>
<rect x="466.94" y="862.40" width="6.7" height="6.5" fill="#D73027"/>
<rect x="476.36" y="862.40" width="6.7" height="6.5" fill="#D73027"/>
<rect x="485.78" y="862.40" width="6.7" height="6.5" fill="#D73027"/>
<rect x="401.00" y="872.30" width="6.7" height="6.5" fill="#D73027"/>
<rect x="410.42" y="872.30" width="6.7" height="6.5" fill="#D73027"/>
<rect x="419.84" y="872.30" width="6.7" height="6.5" fill="#D73027"/>
<rect x="429.26" y="872.30" width="6.7" height="6.5" fill="#D73027"/>
<rect x="438.68" y="872.30" width="6.7" height="6.5" fill="#D73027"/>
<rect x="448.10" y="872.30" width="6.7" height="6.5" fill="#D73027"/>
<rect x="457.52" y="872.30" width="6.7" height="6.5" fill="#D73027"/>
<rect x="466.94" y="872.30" width="6.7" height="6.5" fill="#D73027"/>
<rect x="476.36" y="872.30" width="6.7" height="6.5" fill="#D73027"/>
<rect x="485.78" y="872.30" width="6.7" height="6.5" fill="#D73027"/>
<rect x="401.00" y="882.20" width="6.7" height="6.5" fill="#D73027"/>
<rect x="410.42" y="882.20" width="6.7" height="6.5" fill="#D73027"/>
<rect x="511.70" y="852.50" width="6.7" height="6.5" fill="#A3151F"/>
<rect x="521.60" y="852.50" width="6.7" height="6.5" fill="#A3151F"/>
<rect x="531.50" y="852.50" width="6.7" height="6.5" fill="#A3151F"/>
<rect x="541.40" y="852.50" width="6.7" height="6.5" fill="#A3151F"/>
<rect x="551.30" y="852.50" width="6.7" height="6.5" fill="#A3151F"/>
<rect x="561.20" y="852.50" width="6.7" height="6.5" fill="#A3151F"/>
<rect x="571.10" y="852.50" width="6.7" height="6.5" fill="#A3151F"/>
<rect x="581.00" y="852.50" width="6.7" height="6.5" fill="#A3151F"/>
<rect x="590.90" y="852.50" width="6.7" height="6.5" fill="#A3151F"/>
<rect x="600.80" y="852.50" width="6.7" height="6.5" fill="#A3151F"/>
<rect x="511.70" y="862.40" width="6.7" height="6.5" fill="#A3151F"/>
<rect x="521.60" y="862.40" width="6.7" height="6.5" fill="#A3151F"/>
<rect x="531.50" y="862.40" width="6.7" height="6.5" fill="#A3151F"/>
<rect x="541.40" y="862.40" width="6.7" height="6.5" fill="#A3151F"/>
<rect x="551.30" y="862.40" width="6.7" height="6.5" fill="#A3151F"/>
<rect x="561.20" y="862.40" width="6.7" height="6.5" fill="#A3151F"/>
<rect x="571.10" y="862.40" width="6.7" height="6.5" fill="#A3151F"/>
<rect x="581.00" y="862.40" width="6.7" height="6.5" fill="#A3151F"/>
<rect x="590.90" y="862.40" width="6.7" height="6.5" fill="#A3151F"/>
<rect x="600.80" y="862.40" width="6.7" height="6.5" fill="#A3151F"/>
<rect x="511.70" y="872.30" width="6.7" height="6.5" fill="#A3151F"/>
<rect x="521.60" y="872.30" width="6.7" height="6.5" fill="#A3151F"/>
<rect x="531.50" y="872.30" width="6.7" height="6.5" fill="#A3151F"/>
<rect x="541.40" y="872.30" width="6.7" height="6.5" fill="#A3151F"/>
<rect x="551.30" y="872.30" width="6.7" height="6.5" fill="#A3151F"/>
<rect x="561.20" y="872.30" width="6.7" height="6.5" fill="#A3151F"/>
<rect x="571.10" y="872.30" width="6.7" height="6.5" fill="#A3151F"/>
<rect x="581.00" y="872.30" width="6.7" height="6.5" fill="#A3151F"/>
<rect x="590.90" y="872.30" width="6.7" height="6.5" fill="#A3151F"/>
<rect x="600.80" y="872.30" width="6.7" height="6.5" fill="#A3151F"/>
<rect x="511.70" y="882.20" width="6.7" height="6.5" fill="#A3151F"/>
<rect x="521.60" y="882.20" width="6.7" height="6.5" fill="#A3151F"/>
<rect x="531.50" y="882.20" width="6.7" height="6.5" fill="#A3151F"/>
<rect x="541.40" y="882.20" width="6.7" height="6.5" fill="#A3151F"/>
<rect x="551.30" y="882.20" width="6.7" height="6.5" fill="#A3151F"/>
<rect x="561.20" y="882.20" width="6.7" height="6.5" fill="#A3151F"/>
<rect x="571.10" y="882.20" width="6.7" height="6.5" fill="#A3151F"/>
<rect x="581.00" y="882.20" width="6.7" height="6.5" fill="#A3151F"/>
<rect x="590.90" y="882.20" width="6.7" height="6.5" fill="#A3151F"/>
<rect x="600.80" y="882.20" width="6.7" height="6.5" fill="#A3151F"/>
<rect x="511.70" y="892.10" width="6.7" height="6.5" fill="#A3151F"/>
<rect x="521.60" y="892.10" width="6.7" height="6.5" fill="#A3151F"/>
</svg>
<section>
<div class="t" style="top:113.78px;font:normal bold 9.3px/0 'Liberation Sans', sans-serif;color:#111;left:339.00px;transform:scaleX(1.0160);transform-origin:left center;-webkit-text-stroke:0.25px #111;">Fig. 1: Number of newly diagnosed cases per month, 2017-2019</div>
<div class="t" style="top:240.61px;font:normal normal 6.6px/0 'Liberation Sans', sans-serif;color:#222;right:299.80px;transform:scaleX(0.8600);transform-origin:right center;-webkit-text-stroke:0.12px #222;">0</div>
<div class="t" style="top:224.51px;font:normal normal 6.6px/0 'Liberation Sans', sans-serif;color:#222;right:299.80px;transform:scaleX(0.8600);transform-origin:right center;-webkit-text-stroke:0.12px #222;">200</div>
<div class="t" style="top:208.41px;font:normal normal 6.6px/0 'Liberation Sans', sans-serif;color:#222;right:299.80px;transform:scaleX(0.8600);transform-origin:right center;-webkit-text-stroke:0.12px #222;">400</div>
<div class="t" style="top:192.31px;font:normal normal 6.6px/0 'Liberation Sans', sans-serif;color:#222;right:299.80px;transform:scaleX(0.8600);transform-origin:right center;-webkit-text-stroke:0.12px #222;">600</div>
<div class="t" style="top:176.21px;font:normal normal 6.6px/0 'Liberation Sans', sans-serif;color:#222;right:299.80px;transform:scaleX(0.8600);transform-origin:right center;-webkit-text-stroke:0.12px #222;">800</div>
<div class="t" style="top:160.11px;font:normal normal 6.6px/0 'Liberation Sans', sans-serif;color:#222;right:299.80px;transform:scaleX(0.8600);transform-origin:right center;-webkit-text-stroke:0.12px #222;">1,000</div>
<div class="t" style="top:144.01px;font:normal normal 6.6px/0 'Liberation Sans', sans-serif;color:#222;right:299.80px;transform:scaleX(0.8600);transform-origin:right center;-webkit-text-stroke:0.12px #222;">1,200</div>
<div class="t" style="top:127.91px;font:normal normal 6.6px/0 'Liberation Sans', sans-serif;color:#222;right:299.80px;transform:scaleX(0.8600);transform-origin:right center;-webkit-text-stroke:0.12px #222;">1,400</div>
<div class="t" style="top:246.41px;font:normal normal 6.6px/0 'Liberation Sans', sans-serif;color:#222;left:380.30px;transform:translateX(-50%) scaleX(0.9200);-webkit-text-stroke:0.12px #222;">Jan</div>
<div class="t" style="top:255.75px;font:normal normal 6.5px/0 'Liberation Sans', sans-serif;color:#222;left:380.30px;transform:translateX(-50%) scaleX(0.9000);-webkit-text-stroke:0.12px #222;">841</div>
<div class="t" style="top:265.55px;font:normal normal 6.5px/0 'Liberation Sans', sans-serif;color:#222;left:380.30px;transform:translateX(-50%) scaleX(0.9000);-webkit-text-stroke:0.12px #222;">1,021</div>
<div class="t" style="top:246.41px;font:normal normal 6.6px/0 'Liberation Sans', sans-serif;color:#222;left:401.25px;transform:translateX(-50%) scaleX(0.9200);-webkit-text-stroke:0.12px #222;">Feb</div>
<div class="t" style="top:255.75px;font:normal normal 6.5px/0 'Liberation Sans', sans-serif;color:#222;left:401.25px;transform:translateX(-50%) scaleX(0.9000);-webkit-text-stroke:0.12px #222;">849</div>
<div class="t" style="top:265.55px;font:normal normal 6.5px/0 'Liberation Sans', sans-serif;color:#222;left:401.25px;transform:translateX(-50%) scaleX(0.9000);-webkit-text-stroke:0.12px #222;">871</div>
<div class="t" style="top:246.41px;font:normal normal 6.6px/0 'Liberation Sans', sans-serif;color:#222;left:422.20px;transform:translateX(-50%) scaleX(0.9200);-webkit-text-stroke:0.12px #222;">Mar</div>
<div class="t" style="top:255.75px;font:normal normal 6.5px/0 'Liberation Sans', sans-serif;color:#222;left:422.20px;transform:translateX(-50%) scaleX(0.9000);-webkit-text-stroke:0.12px #222;">968</div>
<div class="t" style="top:265.55px;font:normal normal 6.5px/0 'Liberation Sans', sans-serif;color:#222;left:422.20px;transform:translateX(-50%) scaleX(0.9000);-webkit-text-stroke:0.12px #222;">914</div>
<div class="t" style="top:246.41px;font:normal normal 6.6px/0 'Liberation Sans', sans-serif;color:#222;left:443.15px;transform:translateX(-50%) scaleX(0.9200);-webkit-text-stroke:0.12px #222;">Apr</div>
<div class="t" style="top:255.75px;font:normal normal 6.5px/0 'Liberation Sans', sans-serif;color:#222;left:443.15px;transform:translateX(-50%) scaleX(0.9000);-webkit-text-stroke:0.12px #222;">628</div>
<div class="t" style="top:265.55px;font:normal normal 6.5px/0 'Liberation Sans', sans-serif;color:#222;left:443.15px;transform:translateX(-50%) scaleX(0.9000);-webkit-text-stroke:0.12px #222;">924</div>
<div class="t" style="top:246.41px;font:normal normal 6.6px/0 'Liberation Sans', sans-serif;color:#222;left:464.10px;transform:translateX(-50%) scaleX(0.9200);-webkit-text-stroke:0.12px #222;">May</div>
<div class="t" style="top:255.75px;font:normal normal 6.5px/0 'Liberation Sans', sans-serif;color:#222;left:464.10px;transform:translateX(-50%) scaleX(0.9000);-webkit-text-stroke:0.12px #222;">1,098</div>
<div class="t" style="top:265.55px;font:normal normal 6.5px/0 'Liberation Sans', sans-serif;color:#222;left:464.10px;transform:translateX(-50%) scaleX(0.9000);-webkit-text-stroke:0.12px #222;">950</div>
<div class="t" style="top:246.41px;font:normal normal 6.6px/0 'Liberation Sans', sans-serif;color:#222;left:485.05px;transform:translateX(-50%) scaleX(0.9200);-webkit-text-stroke:0.12px #222;">Jun</div>
<div class="t" style="top:255.75px;font:normal normal 6.5px/0 'Liberation Sans', sans-serif;color:#222;left:485.05px;transform:translateX(-50%) scaleX(0.9000);-webkit-text-stroke:0.12px #222;">1,015</div>
<div class="t" style="top:265.55px;font:normal normal 6.5px/0 'Liberation Sans', sans-serif;color:#222;left:485.05px;transform:translateX(-50%) scaleX(0.9000);-webkit-text-stroke:0.12px #222;">993</div>
<div class="t" style="top:246.41px;font:normal normal 6.6px/0 'Liberation Sans', sans-serif;color:#222;left:506.00px;transform:translateX(-50%) scaleX(0.9200);-webkit-text-stroke:0.12px #222;">Jul</div>
<div class="t" style="top:255.75px;font:normal normal 6.5px/0 'Liberation Sans', sans-serif;color:#222;left:506.00px;transform:translateX(-50%) scaleX(0.9000);-webkit-text-stroke:0.12px #222;">854</div>
<div class="t" style="top:265.55px;font:normal normal 6.5px/0 'Liberation Sans', sans-serif;color:#222;left:506.00px;transform:translateX(-50%) scaleX(0.9000);-webkit-text-stroke:0.12px #222;">859</div>
<div class="t" style="top:246.41px;font:normal normal 6.6px/0 'Liberation Sans', sans-serif;color:#222;left:526.95px;transform:translateX(-50%) scaleX(0.9200);-webkit-text-stroke:0.12px #222;">Aug</div>
<div class="t" style="top:255.75px;font:normal normal 6.5px/0 'Liberation Sans', sans-serif;color:#222;left:526.95px;transform:translateX(-50%) scaleX(0.9000);-webkit-text-stroke:0.12px #222;">1,104</div>
<div class="t" style="top:265.55px;font:normal normal 6.5px/0 'Liberation Sans', sans-serif;color:#222;left:526.95px;transform:translateX(-50%) scaleX(0.9000);-webkit-text-stroke:0.12px #222;">1,047</div>
<div class="t" style="top:246.41px;font:normal normal 6.6px/0 'Liberation Sans', sans-serif;color:#222;left:547.90px;transform:translateX(-50%) scaleX(0.9200);-webkit-text-stroke:0.12px #222;">Sep</div>
<div class="t" style="top:255.75px;font:normal normal 6.5px/0 'Liberation Sans', sans-serif;color:#222;left:547.90px;transform:translateX(-50%) scaleX(0.9000);-webkit-text-stroke:0.12px #222;">938</div>
<div class="t" style="top:265.55px;font:normal normal 6.5px/0 'Liberation Sans', sans-serif;color:#222;left:547.90px;transform:translateX(-50%) scaleX(0.9000);-webkit-text-stroke:0.12px #222;">954</div>
<div class="t" style="top:246.41px;font:normal normal 6.6px/0 'Liberation Sans', sans-serif;color:#222;left:568.85px;transform:translateX(-50%) scaleX(0.9200);-webkit-text-stroke:0.12px #222;">Oct</div>
<div class="t" style="top:255.75px;font:normal normal 6.5px/0 'Liberation Sans', sans-serif;color:#222;left:568.85px;transform:translateX(-50%) scaleX(0.9000);-webkit-text-stroke:0.12px #222;">919</div>
<div class="t" style="top:265.55px;font:normal normal 6.5px/0 'Liberation Sans', sans-serif;color:#222;left:568.85px;transform:translateX(-50%) scaleX(0.9000);-webkit-text-stroke:0.12px #222;">1,072</div>
<div class="t" style="top:246.41px;font:normal normal 6.6px/0 'Liberation Sans', sans-serif;color:#222;left:589.80px;transform:translateX(-50%) scaleX(0.9200);-webkit-text-stroke:0.12px #222;">Nov</div>
<div class="t" style="top:255.75px;font:normal normal 6.5px/0 'Liberation Sans', sans-serif;color:#222;left:589.80px;transform:translateX(-50%) scaleX(0.9000);-webkit-text-stroke:0.12px #222;">894</div>
<div class="t" style="top:265.55px;font:normal normal 6.5px/0 'Liberation Sans', sans-serif;color:#222;left:589.80px;transform:translateX(-50%) scaleX(0.9000);-webkit-text-stroke:0.12px #222;">945</div>
<div class="t" style="top:246.41px;font:normal normal 6.6px/0 'Liberation Sans', sans-serif;color:#222;left:610.75px;transform:translateX(-50%) scaleX(0.9200);-webkit-text-stroke:0.12px #222;">Dec</div>
<div class="t" style="top:255.75px;font:normal normal 6.5px/0 'Liberation Sans', sans-serif;color:#222;left:610.75px;transform:translateX(-50%) scaleX(0.9000);-webkit-text-stroke:0.12px #222;">993</div>
<div class="t" style="top:265.55px;font:normal normal 6.5px/0 'Liberation Sans', sans-serif;color:#222;left:610.75px;transform:translateX(-50%) scaleX(0.9000);-webkit-text-stroke:0.12px #222;">877</div>
<div class="t" style="top:275.35px;font:normal normal 6.5px/0 'Liberation Sans', sans-serif;color:#222;left:380.30px;transform:translateX(-50%) scaleX(0.9000);-webkit-text-stroke:0.12px #222;">1,249</div>
<div class="t" style="top:255.54px;font:normal normal 6.8px/0 'Liberation Sans', sans-serif;color:#222;left:354.80px;transform:scaleX(0.8331);transform-origin:left center;-webkit-text-stroke:0.12px #222;">2017</div>
<div class="t" style="top:265.39px;font:normal normal 6.8px/0 'Liberation Sans', sans-serif;color:#222;left:354.80px;transform:scaleX(0.8331);transform-origin:left center;-webkit-text-stroke:0.12px #222;">2018</div>
<div class="t" style="top:275.24px;font:normal normal 6.8px/0 'Liberation Sans', sans-serif;color:#222;left:354.80px;transform:scaleX(0.8331);transform-origin:left center;-webkit-text-stroke:0.12px #222;">2019</div>
<div style="position:absolute;left:346.5px;top:192px;width:0;height:0;transform:rotate(-90deg)"><div class="t" style="top:-0.02px;font:normal normal 6.4px/0 'Liberation Sans', sans-serif;color:#222;left:0.00px;transform:translateX(-50%);-webkit-text-stroke:0.2px #222;">Number of newly diagnosed HIV cases</div></div>
</section>
<section>
<div class="t" style="top:292.68px;font:normal bold 9.3px/0 'Liberation Sans', sans-serif;color:#111;left:339.00px;transform:scaleX(1.0261);transform-origin:left center;-webkit-text-stroke:0.25px #111;">Fig. 2: Proportion by region of residence among newly</div>
<div class="t" style="top:305.38px;font:normal bold 9.3px/0 'Liberation Sans', sans-serif;color:#111;left:365.40px;-webkit-text-stroke:0.25px #111;">diagnosed cases, January 2019</div>
<div class="t" style="top:322.82px;font:normal bold 8.6px/0 'Liberation Sans', sans-serif;color:#fff;left:397.00px;transform:translateX(-50%) scaleX(0.7622);-webkit-text-stroke:0.25px #fff;">Region</div>
<div class="t" style="top:322.82px;font:normal bold 8.6px/0 'Liberation Sans', sans-serif;color:#fff;left:422.90px;transform:translateX(-50%) scaleX(0.8000);-webkit-text-stroke:0.25px #fff;">%</div>
<div class="t" style="top:334.89px;font:normal bold 8.6px/0 'Liberation Sans', sans-serif;color:#fff;left:397.00px;transform:translateX(-50%) scaleX(0.6711);-webkit-text-stroke:0.25px #fff;">NCR</div>
<div class="t" style="top:334.89px;font:normal bold 8.6px/0 'Liberation Sans', sans-serif;color:#fff;left:422.90px;transform:translateX(-50%) scaleX(0.8000);-webkit-text-stroke:0.25px #fff;">32%</div>
<div class="t" style="top:346.96px;font:normal bold 8.6px/0 'Liberation Sans', sans-serif;color:#1a0d0d;left:397.00px;transform:translateX(-50%) scaleX(0.8909);-webkit-text-stroke:0.25px #1a0d0d;">4A</div>
<div class="t" style="top:346.96px;font:normal bold 8.6px/0 'Liberation Sans', sans-serif;color:#1a0d0d;left:422.90px;transform:translateX(-50%) scaleX(0.8000);-webkit-text-stroke:0.25px #1a0d0d;">18%</div>
<div class="t" style="top:359.03px;font:normal bold 8.6px/0 'Liberation Sans', sans-serif;color:#1a0d0d;left:397.00px;transform:translateX(-50%) scaleX(0.8200);-webkit-text-stroke:0.25px #1a0d0d;">3</div>
<div class="t" style="top:359.03px;font:normal bold 8.6px/0 'Liberation Sans', sans-serif;color:#1a0d0d;left:422.90px;transform:translateX(-50%) scaleX(0.8000);-webkit-text-stroke:0.25px #1a0d0d;">9%</div>
<div class="t" style="top:371.10px;font:normal bold 8.6px/0 'Liberation Sans', sans-serif;color:#1a0d0d;left:397.00px;transform:translateX(-50%) scaleX(0.8200);-webkit-text-stroke:0.25px #1a0d0d;">7</div>
<div class="t" style="top:371.10px;font:normal bold 8.6px/0 'Liberation Sans', sans-serif;color:#1a0d0d;left:422.90px;transform:translateX(-50%) scaleX(0.8000);-webkit-text-stroke:0.25px #1a0d0d;">8%</div>
<div class="t" style="top:383.17px;font:normal bold 8.6px/0 'Liberation Sans', sans-serif;color:#1a0d0d;left:397.00px;transform:translateX(-50%) scaleX(0.8200);-webkit-text-stroke:0.25px #1a0d0d;">6</div>
<div class="t" style="top:383.17px;font:normal bold 8.6px/0 'Liberation Sans', sans-serif;color:#1a0d0d;left:422.90px;transform:translateX(-50%) scaleX(0.8000);-webkit-text-stroke:0.25px #1a0d0d;">7%</div>
<div class="t" style="top:395.24px;font:normal bold 8.6px/0 'Liberation Sans', sans-serif;color:#1a0d0d;left:397.00px;transform:translateX(-50%) scaleX(0.8200);-webkit-text-stroke:0.25px #1a0d0d;">12</div>
<div class="t" style="top:395.24px;font:normal bold 8.6px/0 'Liberation Sans', sans-serif;color:#1a0d0d;left:422.90px;transform:translateX(-50%) scaleX(0.8000);-webkit-text-stroke:0.25px #1a0d0d;">5%</div>
<div class="t" style="top:407.31px;font:normal bold 8.6px/0 'Liberation Sans', sans-serif;color:#1a0d0d;left:397.00px;transform:translateX(-50%) scaleX(0.8200);-webkit-text-stroke:0.25px #1a0d0d;">1</div>
<div class="t" style="top:407.31px;font:normal bold 8.6px/0 'Liberation Sans', sans-serif;color:#1a0d0d;left:422.90px;transform:translateX(-50%) scaleX(0.8000);-webkit-text-stroke:0.25px #1a0d0d;">3%</div>
<div class="t" style="top:419.38px;font:normal bold 8.6px/0 'Liberation Sans', sans-serif;color:#1a0d0d;left:397.00px;transform:translateX(-50%) scaleX(0.8200);-webkit-text-stroke:0.25px #1a0d0d;">2</div>
<div class="t" style="top:419.38px;font:normal bold 8.6px/0 'Liberation Sans', sans-serif;color:#1a0d0d;left:422.90px;transform:translateX(-50%) scaleX(0.8000);-webkit-text-stroke:0.25px #1a0d0d;">3%</div>
<div class="t" style="top:431.45px;font:normal bold 8.6px/0 'Liberation Sans', sans-serif;color:#1a0d0d;left:397.00px;transform:translateX(-50%) scaleX(0.8200);-webkit-text-stroke:0.25px #1a0d0d;">11</div>
<div class="t" style="top:431.45px;font:normal bold 8.6px/0 'Liberation Sans', sans-serif;color:#1a0d0d;left:422.90px;transform:translateX(-50%) scaleX(0.8000);-webkit-text-stroke:0.25px #1a0d0d;">3%</div>
<div class="t" style="top:443.52px;font:normal bold 8.6px/0 'Liberation Sans', sans-serif;color:#1a0d0d;left:397.00px;transform:translateX(-50%) scaleX(0.8200);-webkit-text-stroke:0.25px #1a0d0d;">5</div>
<div class="t" style="top:443.52px;font:normal bold 8.6px/0 'Liberation Sans', sans-serif;color:#1a0d0d;left:422.90px;transform:translateX(-50%) scaleX(0.8000);-webkit-text-stroke:0.25px #1a0d0d;">2%</div>
<div class="t" style="top:455.59px;font:normal bold 8.6px/0 'Liberation Sans', sans-serif;color:#1a0d0d;left:397.00px;transform:translateX(-50%) scaleX(0.8200);-webkit-text-stroke:0.25px #1a0d0d;">10</div>
<div class="t" style="top:455.59px;font:normal bold 8.6px/0 'Liberation Sans', sans-serif;color:#1a0d0d;left:422.90px;transform:translateX(-50%) scaleX(0.8000);-webkit-text-stroke:0.25px #1a0d0d;">2%</div>
<div class="t" style="top:467.66px;font:normal bold 8.6px/0 'Liberation Sans', sans-serif;color:#1a0d0d;left:397.00px;transform:translateX(-50%) scaleX(0.8200);-webkit-text-stroke:0.25px #1a0d0d;">8</div>
<div class="t" style="top:467.66px;font:normal bold 8.6px/0 'Liberation Sans', sans-serif;color:#1a0d0d;left:422.90px;transform:translateX(-50%) scaleX(0.8000);-webkit-text-stroke:0.25px #1a0d0d;">2%</div>
<div class="t" style="top:479.73px;font:normal bold 8.6px/0 'Liberation Sans', sans-serif;color:#1a0d0d;left:397.00px;transform:translateX(-50%) scaleX(0.8909);-webkit-text-stroke:0.25px #1a0d0d;">4B</div>
<div class="t" style="top:479.73px;font:normal bold 8.6px/0 'Liberation Sans', sans-serif;color:#1a0d0d;left:422.90px;transform:translateX(-50%) scaleX(0.8000);-webkit-text-stroke:0.25px #1a0d0d;">2%</div>
<div class="t" style="top:491.80px;font:normal bold 8.6px/0 'Liberation Sans', sans-serif;color:#1a0d0d;left:397.00px;transform:translateX(-50%) scaleX(0.7158);-webkit-text-stroke:0.25px #1a0d0d;">CARAGA</div>
<div class="t" style="top:491.80px;font:normal bold 8.6px/0 'Liberation Sans', sans-serif;color:#1a0d0d;left:422.90px;transform:translateX(-50%) scaleX(0.8000);-webkit-text-stroke:0.25px #1a0d0d;">2%</div>
<div class="t" style="top:503.87px;font:normal bold 8.6px/0 'Liberation Sans', sans-serif;color:#1a0d0d;left:397.00px;transform:translateX(-50%) scaleX(0.7785);-webkit-text-stroke:0.25px #1a0d0d;">CAR</div>
<div class="t" style="top:503.87px;font:normal bold 8.6px/0 'Liberation Sans', sans-serif;color:#1a0d0d;left:422.90px;transform:translateX(-50%) scaleX(0.8000);-webkit-text-stroke:0.25px #1a0d0d;">1%</div>
<div class="t" style="top:515.94px;font:normal bold 8.6px/0 'Liberation Sans', sans-serif;color:#1a0d0d;left:397.00px;transform:translateX(-50%) scaleX(0.8200);-webkit-text-stroke:0.25px #1a0d0d;">9</div>
<div class="t" style="top:515.94px;font:normal bold 8.6px/0 'Liberation Sans', sans-serif;color:#1a0d0d;left:422.90px;transform:translateX(-50%) scaleX(0.8000);-webkit-text-stroke:0.25px #1a0d0d;">1%</div>
<div class="t" style="top:528.01px;font:normal bold 8.6px/0 'Liberation Sans', sans-serif;color:#1a0d0d;left:397.00px;transform:translateX(-50%) scaleX(0.8042);-webkit-text-stroke:0.25px #1a0d0d;">ARMM</div>
<div class="t" style="top:528.01px;font:normal bold 8.6px/0 'Liberation Sans', sans-serif;color:#1a0d0d;left:422.90px;transform:translateX(-50%) scaleX(0.8000);-webkit-text-stroke:0.25px #1a0d0d;">&lt;1%</div>
</section>
<section>
<div class="t" style="top:558.18px;font:normal bold 9.3px/0 'Liberation Sans', sans-serif;color:#111;left:339.00px;transform:scaleX(1.0081);transform-origin:left center;-webkit-text-stroke:0.25px #111;">Fig. 3: Modes of transmission among newly diagnosed cases,</div>
<div class="t" style="top:570.78px;font:normal bold 9.3px/0 'Liberation Sans', sans-serif;color:#111;left:368.00px;transform:scaleX(0.9841);transform-origin:left center;-webkit-text-stroke:0.25px #111;">January 2019</div>
<div class="t" style="top:597.35px;font:normal normal 8.5px/0 'Liberation Sans', sans-serif;color:#ffffff;left:488.50px;transform:translateX(-50%) scaleX(0.9500);">780</div>
<div class="t" style="top:607.65px;font:normal normal 8.5px/0 'Liberation Sans', sans-serif;color:#ffffff;left:488.30px;transform:translateX(-50%) scaleX(0.9500);">(62%)</div>
<div class="t" style="top:685.05px;font:normal normal 8.5px/0 'Liberation Sans', sans-serif;color:#F4FBE8;left:433.60px;transform:translateX(-50%) scaleX(0.9500);">137</div>
<div class="t" style="top:695.55px;font:normal normal 8.5px/0 'Liberation Sans', sans-serif;color:#F4FBE8;left:433.60px;transform:translateX(-50%) scaleX(0.9500);">(11%)</div>
<div class="t" style="top:715.05px;font:normal normal 8.5px/0 'Liberation Sans', sans-serif;color:#ffffff;left:487.30px;transform:translateX(-50%) scaleX(0.9500);">306</div>
<div class="t" style="top:726.05px;font:normal normal 8.5px/0 'Liberation Sans', sans-serif;color:#ffffff;left:487.30px;transform:translateX(-50%) scaleX(0.9500);">(25%)</div>
<div class="t" style="top:586.11px;font:normal normal 9.5px/0 'Liberation Sans', sans-serif;color:#2a2a2a;left:582.50px;transform:translateX(-50%) scaleX(0.9400);-webkit-text-stroke:0.15px #2a2a2a;">Males having sex</div>
<div class="t" style="top:596.91px;font:normal normal 9.5px/0 'Liberation Sans', sans-serif;color:#2a2a2a;left:581.50px;transform:translateX(-50%) scaleX(0.9834);-webkit-text-stroke:0.15px #2a2a2a;">with males only*</div>
<div class="t" style="top:756.51px;font:normal normal 9.5px/0 'Liberation Sans', sans-serif;color:#2a2a2a;left:531.50px;transform:scaleX(0.9576);transform-origin:left center;-webkit-text-stroke:0.15px #2a2a2a;">Males having sex with</div>
<div class="t" style="top:767.11px;font:normal normal 9.5px/0 'Liberation Sans', sans-serif;color:#2a2a2a;left:531.50px;transform:scaleX(0.9468);transform-origin:left center;-webkit-text-stroke:0.15px #2a2a2a;">males and females*</div>
<div class="t" style="top:747.51px;font:normal normal 9.5px/0 'Liberation Sans', sans-serif;color:#2a2a2a;left:364.50px;transform:scaleX(0.9470);transform-origin:left center;-webkit-text-stroke:0.15px #2a2a2a;">Male-female sex*</div>
<div class="t" style="top:609.32px;font:normal normal 8.3px/0 'Liberation Sans', sans-serif;color:#2a2a2a;left:394.70px;transform:translateX(-50%) scaleX(0.9300);-webkit-text-stroke:0.15px #2a2a2a;">13 (1%)</div>
<div class="t" style="top:618.42px;font:normal normal 8.3px/0 'Liberation Sans', sans-serif;color:#2a2a2a;left:394.70px;transform:translateX(-50%) scaleX(0.9300);-webkit-text-stroke:0.15px #2a2a2a;">No data</div>
<div class="t" style="top:648.25px;font:normal normal 8.5px/0 'Liberation Sans', sans-serif;color:#2a2a2a;left:341.40px;transform:scaleX(0.9300);transform-origin:left center;-webkit-text-stroke:0.15px #2a2a2a;">9 (1%)</div>
<div class="t" style="top:657.60px;font:normal normal 8.5px/0 'Liberation Sans', sans-serif;color:#2a2a2a;left:341.40px;transform:scaleX(0.9300);transform-origin:left center;-webkit-text-stroke:0.15px #2a2a2a;">Sharing of</div>
<div class="t" style="top:666.95px;font:normal normal 8.5px/0 'Liberation Sans', sans-serif;color:#2a2a2a;left:341.40px;transform:scaleX(0.9300);transform-origin:left center;-webkit-text-stroke:0.15px #2a2a2a;">infected</div>
<div class="t" style="top:676.30px;font:normal normal 8.5px/0 'Liberation Sans', sans-serif;color:#2a2a2a;left:341.40px;transform:scaleX(0.9300);transform-origin:left center;-webkit-text-stroke:0.15px #2a2a2a;">needles</div>
<div class="t" style="top:702.82px;font:normal normal 8.3px/0 'Liberation Sans', sans-serif;color:#2a2a2a;left:380.30px;transform:translateX(-50%) scaleX(0.9300);-webkit-text-stroke:0.15px #2a2a2a;">4 (&lt;1%)</div>
<div class="t" style="top:712.72px;font:normal normal 8.3px/0 'Liberation Sans', sans-serif;color:#2a2a2a;left:380.50px;transform:translateX(-50%) scaleX(1.0209);-webkit-text-stroke:0.15px #2a2a2a;">Mother-to-child</div>
<div class="t" style="top:780.75px;font:italic normal 6.5px/0 'Liberation Sans', sans-serif;color:#2a2a2a;left:341.00px;transform:scaleX(1.0608);transform-origin:left center;"><sup>*</sup> Transmitted through sexual contact</div>
</section>
<section>
<div class="t" style="top:803.18px;font:normal bold 9.3px/0 'Liberation Sans', sans-serif;color:#111;left:40.60px;transform:scaleX(1.0344);transform-origin:left center;-webkit-text-stroke:0.25px #111;">Average number of people newly diagnosed with HIV per day, selected years</div>
<div class="t" style="top:820.75px;font:normal bold 8.8px/0 'Liberation Sans', sans-serif;color:#111;left:107.60px;transform:translateX(-50%) scaleX(1.0624);">2009</div>
<div class="t" style="top:837.92px;font:normal bold 8.6px/0 'Liberation Sans', sans-serif;color:#FBE7AD;left:107.60px;transform:translateX(-50%) scaleX(0.9300);">2</div>
<div class="t" style="top:820.75px;font:normal bold 8.8px/0 'Liberation Sans', sans-serif;color:#111;left:219.70px;transform:translateX(-50%) scaleX(1.0894);">2011</div>
<div class="t" style="top:837.57px;font:normal bold 9.6px/0 'Liberation Sans', sans-serif;color:#F9C490;left:219.70px;transform:translateX(-50%) scaleX(0.9300);">7</div>
<div class="t" style="top:820.75px;font:normal bold 8.8px/0 'Liberation Sans', sans-serif;color:#111;left:332.70px;transform:translateX(-50%) scaleX(1.0624);">2014</div>
<div class="t" style="top:837.30px;font:normal bold 10.4px/0 'Liberation Sans', sans-serif;color:#F46D43;left:332.70px;transform:translateX(-50%) scaleX(0.9300);">16</div>
<div class="t" style="top:820.75px;font:normal bold 8.8px/0 'Liberation Sans', sans-serif;color:#111;left:445.00px;transform:translateX(-50%) scaleX(1.0624);">2018</div>
<div class="t" style="top:836.95px;font:normal bold 11.4px/0 'Liberation Sans', sans-serif;color:#D73027;left:445.00px;transform:translateX(-50%) scaleX(0.9300);">32</div>
<div class="t" style="top:820.75px;font:normal bold 8.8px/0 'Liberation Sans', sans-serif;color:#111;left:557.50px;transform:translateX(-50%) scaleX(1.0624);">2019</div>
<div class="t" style="top:836.67px;font:normal bold 12.2px/0 'Liberation Sans', sans-serif;color:#A3151F;left:557.50px;transform:translateX(-50%) scaleX(0.9300);">42</div>
<div class="t" style="top:924.24px;font:normal bold 9.7px/0 'Liberation Sans', sans-serif;color:#111;left:641.80px;transform:translateX(-50%);">1</div>
</section>
</div></body></html>
